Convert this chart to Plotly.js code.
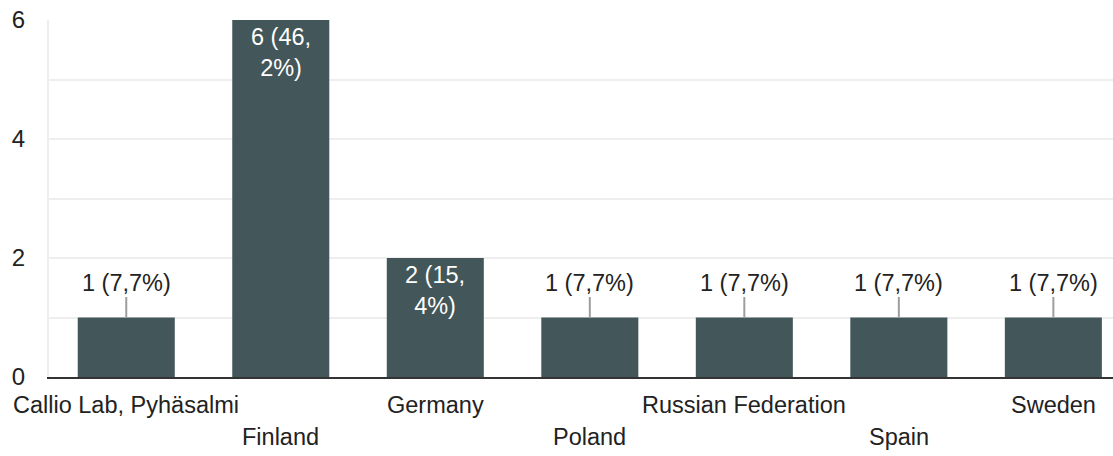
<!DOCTYPE html>
<html>
<head>
<meta charset="utf-8">
<script src="https://cdn.plot.ly/plotly-3.0.1.min.js"></script>
<style>html,body{margin:0;padding:0;background:#fff;}#chart{width:1113px;height:456px;}</style>
</head>
<body>
<div id="chart"></div>
<script>
var categories = ["Callio Lab, Pyhäsalmi", "Finland", "Germany", "Poland", "Russian Federation", "Spain", "Sweden"];
var counts = [1, 6, 2, 1, 1, 1, 1];
var percents = ["7,7%", "46,2%", "15,4%", "7,7%", "7,7%", "7,7%", "7,7%"];
var yTicks = [0, 2, 4, 6];

var FONT = "Arial, 'Liberation Sans', sans-serif";
var TEXT = "#222222";
var annotations = [];

categories.forEach(function (c, i) {
  // category labels in two staggered rows
  annotations.push({
    x: c, xref: "x", y: 0, yref: "paper",
    text: c, showarrow: false,
    xanchor: "center", yanchor: "middle",
    yshift: i % 2 === 0 ? -28 : -60,
    font: {family: FONT, size: 23.5, color: TEXT}
  });
  var v = counts[i];
  if (v >= 2) {
    annotations.push({
      x: c, xref: "x", y: v, yref: "y",
      text: v + " (" + percents[i].replace(",", ",<br>") + ")",
      showarrow: false, xanchor: "center", yanchor: "top", yshift: -2,
      font: {family: FONT, size: 23.5, color: "#ffffff"}
    });
  } else {
    annotations.push({
      x: c, xref: "x", y: v, yref: "y",
      text: v + " (" + percents[i] + ")",
      showarrow: true, arrowhead: 0, arrowwidth: 2, arrowcolor: "#9e9e9e",
      ax: 0, ay: -35, standoff: 0,
      font: {family: FONT, size: 23.5, color: TEXT}
    });
  }
});

var trace = {
  type: "bar",
  x: categories,
  y: counts,
  width: 0.628,
  marker: {color: "#435659"},
  hoverinfo: "none"
};

var layout = {
  width: 1113, height: 456,
  margin: {l: 49, r: 0, t: 20, b: 79, pad: 0},
  paper_bgcolor: "#ffffff", plot_bgcolor: "#ffffff",
  showlegend: false,
  bargap: 0.37,
  xaxis: {
    type: "category",
    range: [-0.5, 6.386],
    showticklabels: false,
    ticks: "",
    showgrid: false,
    zeroline: false,
    showline: true, linecolor: "#333333", linewidth: 2,
    fixedrange: true
  },
  yaxis: {
    range: [0, 6],
    tickvals: yTicks,
    ticktext: yTicks.map(String),
    ticks: "",
    ticklabelstandoff: 17,
    tickfont: {family: FONT, size: 24, color: TEXT},
    showgrid: true, gridcolor: "#eeeeee", gridwidth: 2,
    minor: {dtick: 1, showgrid: true, gridcolor: "#eeeeee", gridwidth: 2},
    zeroline: false,
    showline: true, linecolor: "#eeeeee", linewidth: 2,
    fixedrange: true
  },
  annotations: annotations
};

Plotly.newPlot("chart", [trace], layout, {displayModeBar: false, staticPlot: true});
</script>
</body>
</html>
